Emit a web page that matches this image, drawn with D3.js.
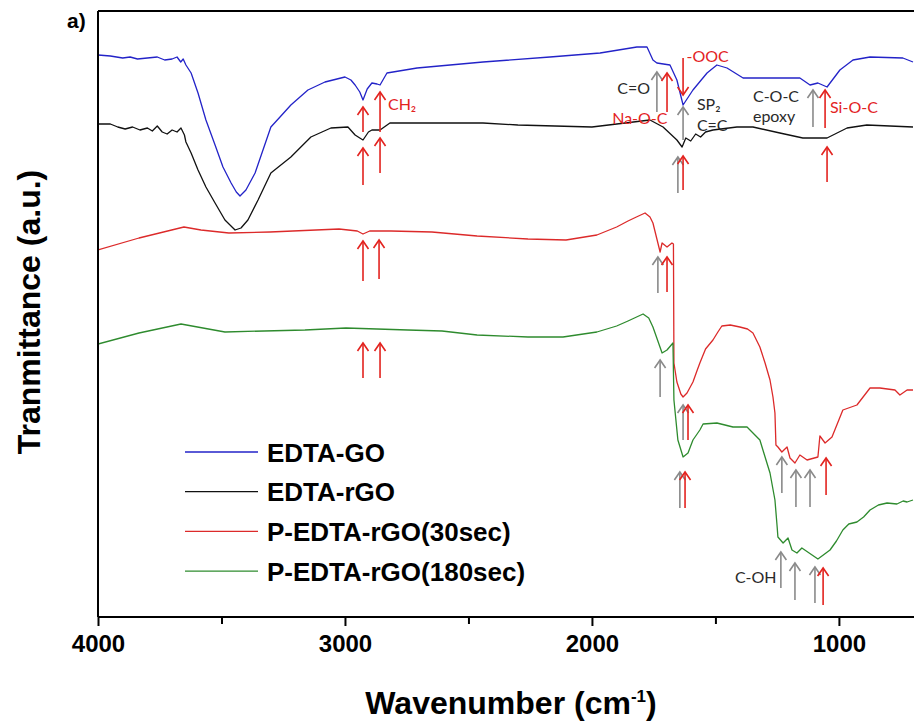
<!DOCTYPE html>
<html><head><meta charset="utf-8">
<script src="https://cdn.jsdelivr.net/npm/d3@7"></script>
<style>
html,body{margin:0;padding:0;background:#fff;}
svg{display:block;}
</style></head>
<body>
<svg id="chart" width="914" height="723"></svg>
<script>
// ---- Data (wavenumber cm-1, transmittance a.u.) ----
const edtaGO = [[4000,56.2],[3950,56.1],[3900,55.9],[3870,56.0],[3840,55.8],[3800,55.9],[3760,56.0],[3730,55.7],[3700,55.8],[3680,56.0],[3665,55.5],[3655,55.8],[3644,55.2],[3623,54.4],[3595,52.4],[3563,49.7],[3526,47.2],[3494,45.0],[3461,43.4],[3440,42.5],[3425,42.1],[3401,42.7],[3364,44.4],[3332,46.7],[3300,49.0],[3263,50.0],[3219,51.2],[3150,52.7],[3081,53.5],[3000,54.0],[2976,53.7],[2959,53.2],[2940,52.5],[2927,51.7],[2910,52.8],[2891,53.4],[2870,53.3],[2858,53.2],[2830,54.4],[2708,54.9],[2441,55.5],[2170,56.0],[1967,56.4],[1818,57.0],[1777,57.0],[1753,55.7],[1737,55.4],[1684,55.2],[1656,53.7],[1631,51.2],[1591,52.7],[1534,54.4],[1494,55.2],[1453,54.9],[1388,53.9],[1279,53.9],[1158,53.9],[1117,53.2],[1085,53.4],[1048,53.0],[996,54.7],[943,55.7],[874,56.0],[741,55.9],[700,55.5]];
const edtaRGO = [[4000,49.3],[3950,49.3],[3920,49.0],[3890,48.8],[3860,49.0],[3830,48.7],[3800,48.9],[3780,48.6],[3760,49.1],[3740,48.5],[3720,48.3],[3700,48.7],[3680,48.5],[3664,48.9],[3650,48.2],[3644,47.5],[3623,46.4],[3595,44.7],[3563,43.0],[3526,41.4],[3486,39.7],[3445,38.7],[3421,38.9],[3393,39.7],[3352,41.7],[3300,44.4],[3219,46.0],[3138,48.0],[3057,48.9],[2988,49.0],[2959,48.2],[2940,47.9],[2927,47.7],[2905,48.5],[2891,48.7],[2858,48.7],[2818,49.4],[2441,49.4],[2300,49.2],[2000,49.0],[1765,49.7],[1712,49.0],[1656,47.7],[1635,47.0],[1620,47.9],[1600,47.6],[1580,48.3],[1560,48.0],[1540,48.5],[1510,48.7],[1413,49.0],[1348,49.0],[1239,48.4],[1146,47.9],[1048,47.9],[967,48.9],[887,49.2],[700,49.0]];
const pEdta30 = [[4000,36.7],[3834,37.9],[3652,39.0],[3583,38.7],[3470,38.4],[3304,38.5],[3024,38.8],[2950,38.6],[2927,38.3],[2900,38.6],[2814,38.6],[2648,38.5],[2465,38.1],[2259,37.8],[2105,37.7],[1980,38.2],[1900,39.0],[1854,39.6],[1820,40.0],[1785,40.4],[1765,40.0],[1753,39.4],[1724,36.5],[1716,37.4],[1696,37.0],[1676,37.4],[1670,37.3],[1668,25.4],[1656,23.5],[1640,22.3],[1631,22.0],[1615,22.4],[1591,23.5],[1575,24.6],[1563,25.4],[1540,26.8],[1510,27.7],[1490,28.5],[1474,29.1],[1440,29.2],[1401,29.0],[1370,28.8],[1348,28.4],[1320,27.0],[1299,25.4],[1279,23.7],[1267,22.0],[1259,20.4],[1255,17.2],[1247,17.0],[1231,16.5],[1210,17.0],[1198,15.9],[1178,15.4],[1158,16.2],[1129,15.7],[1085,16.0],[1077,18.1],[1056,17.4],[1028,18.0],[984,20.7],[927,21.2],[874,22.9],[834,22.9],[773,22.7],[753,22.2],[724,22.7],[700,22.7]];
const pEdta180 = [[4000,27.3],[3834,28.4],[3664,29.3],[3486,28.5],[3162,28.7],[2996,28.9],[2745,28.7],[2607,28.6],[2465,28.2],[2259,28.0],[2117,28.0],[1980,28.5],[1900,29.1],[1854,29.6],[1793,30.3],[1770,29.9],[1753,29.0],[1716,26.4],[1696,26.7],[1672,27.4],[1668,21.7],[1652,17.7],[1631,16.0],[1611,16.4],[1591,17.7],[1563,18.7],[1550,19.3],[1494,19.4],[1429,19.0],[1372,19.0],[1320,17.7],[1279,14.4],[1259,11.7],[1250,9.0],[1247,8.0],[1226,7.4],[1206,7.9],[1190,6.7],[1170,6.4],[1150,6.9],[1085,5.8],[1036,6.7],[1010,7.6],[984,8.7],[960,9.3],[927,9.5],[900,10.0],[874,10.7],[840,11.2],[805,11.4],[765,11.3],[740,11.6],[724,11.5],[700,11.7]];

const seriesNames = ["EDTA-GO","EDTA-rGO","P-EDTA-rGO(30sec)","P-EDTA-rGO(180sec)"];
const seriesColors = ["#2323c8","#111111","#dc2a2a","#2e8b2e"];
const seriesData = [edtaGO, edtaRGO, pEdta30, pEdta180];

const majorTicks = [4000,3000,2000,1000];
const minorTicks = [3500,2500,1500];

// arrows: [wavenumber, fromValue, toValue]
const arrowsRed = [[2927,48.5,51.0],[2858,48.5,52.5],[2927,43.2,46.9],[2858,44.4,47.9],[2927,33.6,37.6],[2862,33.8,37.7],[2927,23.9,27.4],[2858,23.9,27.4],[1696,50.5,54.4],[1631,55.9,52.2],[1631,42.7,46.1],[1056,48.9,52.7],[1048,43.5,47.0],[1696,32.5,36.0],[1611,17.7,21.2],[1623,10.9,14.5],[1052,12.2,15.9],[1064,1.2,4.9]];
const arrowsGray = [[1737,50.5,54.5],[1631,47.7,51.0],[1652,42.4,46.0],[1105,49.0,52.7],[1733,32.4,36.0],[1631,17.7,21.2],[1724,22.0,25.7],[1644,10.9,14.5],[1231,12.4,16.0],[1174,11.0,14.7],[1117,11.0,14.7],[1235,2.9,6.5],[1178,1.7,5.4],[1097,1.4,5.0]];
// labels: [wavenumber, value, text, colour kind, anchor]
const labels = [[2826,50.7,"CH₂","red","start"],[1765,52.3,"C=O","dark","end"],[1694,49.3,"Na-O-C","red","end"],[1617,55.5,"-OOC","red","start"],[1575,50.7,"SP₂","dark","start"],[1575,48.6,"C=C","dark","start"],[1348,51.5,"C-O-C","dark","start"],[1348,49.5,"epoxy","dark","start"],[1036,50.4,"Si-O-C","red","start"],[1421,3.4,"C-OH","dark","start"]];

// ---- Layout ----
const svg = d3.select("#chart");
const L = 98, T = 11, B = 617, R = 913;
const x = d3.scaleLinear().domain([4000,700]).range([L,R]);
const y = d3.scaleLinear().domain([0,60.6]).range([B,T]);

svg.append("defs").append("clipPath").attr("id","clip")
  .append("rect").attr("x",L).attr("y",T).attr("width",R-L+1).attr("height",B-T);

const line = d3.line().x(d=>x(d[0])).y(d=>y(d[1]));
const plot = svg.append("g").attr("clip-path","url(#clip)");
seriesData.forEach((s,i)=>{
  plot.append("path").datum(s).attr("d",line).attr("fill","none")
    .attr("stroke",seriesColors[i]).attr("stroke-width",1.3).attr("stroke-linejoin","round");
});

// arrows
const redC = "#e3231f", grayC = "#8a8a8a";
function drawArrow(a, col){
  const xx = x(a[0]), y0 = y(a[1]), y1 = y(a[2]);
  const dir = y1 < y0 ? 1 : -1;
  const g = plot.append("g").attr("stroke",col).attr("stroke-width",1.6).attr("fill","none");
  g.append("line").attr("x1",xx).attr("x2",xx).attr("y1",y0).attr("y2",y1);
  g.append("polyline").attr("points",`${xx-5.5},${y1+dir*8} ${xx},${y1} ${xx+5.5},${y1+dir*8}`);
}
arrowsGray.forEach(a=>drawArrow(a,grayC));
arrowsRed.forEach(a=>drawArrow(a,redC));

svg.append("g").selectAll("text").data(labels).enter().append("text")
  .attr("x",d=>x(d[0])).attr("y",d=>y(d[1]))
  .attr("text-anchor",d=>d[4])
  .attr("fill",d=>d[3]==="red"?redC:"#2a2a2a")
  .attr("font-family","Lato, 'Open Sans', sans-serif").attr("font-size",16)
  .text(d=>d[2]);

// frame & axes
svg.append("line").attr("x1",L).attr("x2",L).attr("y1",T).attr("y2",B).attr("stroke","#000").attr("stroke-width",2);
svg.append("line").attr("x1",L).attr("x2",914).attr("y1",T).attr("y2",T).attr("stroke","#000").attr("stroke-width",2);

const bold = "'Liberation Sans', Arial, sans-serif";
const xAxis = d3.axisBottom(x).tickValues(majorTicks).tickFormat(d3.format("d")).tickSize(9).tickPadding(9);
const gx = svg.append("g").attr("transform",`translate(0,${B})`).call(xAxis);
gx.select(".domain").attr("stroke-width",2).attr("d",`M${L},0H914`);
gx.selectAll(".tick line").attr("stroke-width",2);
gx.selectAll("text").attr("font-family",bold).attr("font-weight","bold").attr("font-size",24).attr("fill","#000");
const gmin = svg.append("g").attr("transform",`translate(0,${B})`)
  .call(d3.axisBottom(x).tickValues(minorTicks).tickSize(7).tickFormat(""));
gmin.select(".domain").remove();
gmin.selectAll(".tick line").attr("stroke-width",2);

// titles
svg.append("text").attr("x",511).attr("y",714).attr("text-anchor","middle")
  .attr("font-family",bold).attr("font-weight","bold").attr("font-size",32)
  .html('Wavenumber (cm<tspan dy="-12" font-size="17">-1</tspan><tspan dy="12">)</tspan>');
svg.append("text").attr("transform","translate(40,312) rotate(-90)").attr("text-anchor","middle")
  .attr("font-family",bold).attr("font-weight","bold").attr("font-size",32)
  .text("Tranmittance (a.u.)");
svg.append("text").attr("x",67).attr("y",28).attr("font-family",bold).attr("font-weight","bold").attr("font-size",21).text("a)");

// legend
const leg = svg.append("g");
seriesNames.forEach((n,i)=>{
  const yy = 452 + i*39.7;
  leg.append("line").attr("x1",185).attr("x2",258).attr("y1",yy).attr("y2",yy).attr("stroke",seriesColors[i]).attr("stroke-width",1.3);
  leg.append("text").attr("x",267).attr("y",yy+9.5).attr("font-family",bold).attr("font-weight","bold").attr("font-size",26).text(n);
});
</script>
</body></html>
